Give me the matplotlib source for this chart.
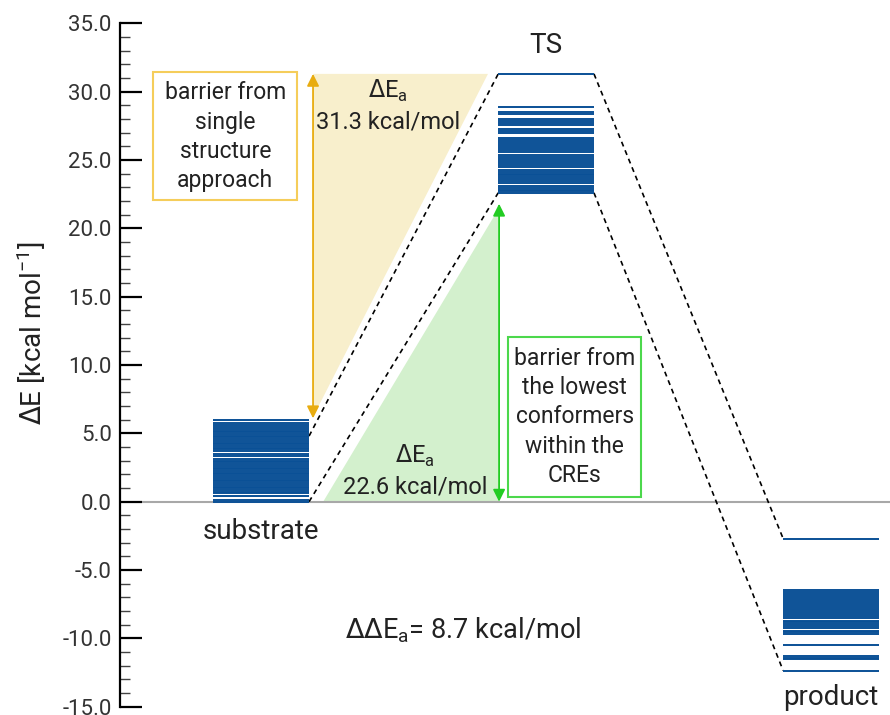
import matplotlib
matplotlib.use("Agg")
import matplotlib.pyplot as plt
from matplotlib.patches import Rectangle, Polygon
from matplotlib.ticker import MultipleLocator

plt.rcParams['font.family'] = ['Roboto', 'DejaVu Sans']
plt.rcParams['axes.unicode_minus'] = False

# conformer energies (kcal/mol) for each stationary point
stages = ['substrate', 'TS', 'product']
stage_x = [0, 1, 2]
substrate_E = [0.0, 0.1, 0.45, 0.6, 0.72, 0.85, 0.98, 1.1, 1.25, 1.38, 1.5, 1.62,
               1.75, 1.88, 2.0, 2.12, 2.25, 2.38, 2.5, 2.62, 2.75, 2.88, 3.0, 3.12,
               3.35, 3.47, 3.72, 3.84, 3.96, 4.08, 4.2, 4.33, 4.46, 4.58, 4.7, 4.83,
               4.96, 5.08, 5.2, 5.35, 5.48, 5.6, 5.75, 6.0]
ts_E = [31.3, 28.9, 28.5, 28.35, 28.0, 27.85, 27.7, 27.55, 27.3, 27.15, 27.0,
        26.6, 26.45, 26.3, 26.15, 26.0, 25.85, 25.7, 25.55, 25.4, 25.25, 25.1,
        24.95, 24.8, 24.65, 24.5, 24.3, 24.15, 24.0, 23.9, 23.75, 23.6, 23.45,
        23.3, 23.1, 22.97, 22.8, 22.7, 22.6]
product_E = [-2.7, -6.45, -6.6, -6.75, -6.9, -7.05, -7.2, -7.35, -7.5, -7.65,
             -7.8, -7.95, -8.1, -8.25, -8.4, -8.5, -8.7, -8.82, -8.96, -9.1,
             -9.22, -9.44, -9.56, -9.7, -10.48, -11.3, -11.45, -11.53, -12.36]
levels = [substrate_E, ts_E, product_E]

# barriers
single_start = 4.8      # substrate conformer used in single structure approach
single_barrier = 31.3
cre_barrier = 22.6
ddE = 8.7

blue = '#0a5096'
txt = '#222222'
hw = 0.168

fig = plt.figure(figsize=(8.9, 7.15), dpi=100)
ax = fig.add_axes([0.135, 0.0116, 0.865, 0.9558])
ax.set_xlim(-0.495, 2.207)
ax.set_ylim(-15, 35)

# zero reference
ax.plot([-0.414, 2.207], [0, 0], color='#a8a8a8', lw=1.5, zorder=1)

# shaded barrier triangles
ax.add_patch(Polygon([[hw + 0.014, single_barrier], [0.796, single_barrier],
                      [hw + 0.014, 6.2]], closed=True, color='#f8efcc', lw=0, zorder=0))
ax.add_patch(Polygon([[0.2175, 0], [0.835, 0], [0.835, 21.5]], closed=True,
                     color='#d3f0cd', lw=0, zorder=0))

# conformer levels
for x, E in zip(stage_x, levels):
    ax.hlines(E, x - hw, x + hw, color=blue, lw=1.4, zorder=3)

# connecting dashed lines
dash = dict(color='black', lw=1.2, ls=(0, (3, 2.5)), zorder=2)
ax.plot([hw, 1 - hw], [single_start, single_barrier], **dash)
ax.plot([hw, 1 - hw], [min(substrate_E), cre_barrier], **dash)
ax.plot([1 + hw, 2 - hw], [max(ts_E), max(product_E)], **dash)
ax.plot([1 + hw, 2 - hw], [min(ts_E), min(product_E)], **dash)

# barrier arrows
ax.annotate('', xy=(hw + 0.014, 6.1), xytext=(hw + 0.014, single_barrier),
            arrowprops=dict(arrowstyle='<|-|>', color='#e8ac10', lw=1.3,
                            mutation_scale=18, shrinkA=0, shrinkB=0))
ax.annotate('', xy=(0.835, 21.8), xytext=(0.835, 0),
            arrowprops=dict(arrowstyle='<|-|>', color='#22cc22', lw=1.3,
                            mutation_scale=18, shrinkA=0, shrinkB=0))

# explanation boxes
ax.add_patch(Rectangle((-0.379, 22.06), 0.505, 9.37, fill=False,
                       ec='#f5cd5a', lw=1.5, zorder=4))
ax.text(-0.126, 26.7, 'barrier from\nsingle\nstructure\napproach', ha='center',
        va='center', fontsize=16.5, linespacing=1.35, color=txt)
ax.add_patch(Rectangle((0.867, 0.34), 0.466, 11.71, fill=False,
                       ec='#4cd84c', lw=1.5, zorder=4))
ax.text(1.1, 6.2, 'barrier from\nthe lowest\nconformers\nwithin the\nCREs', ha='center',
        va='center', fontsize=16.5, linespacing=1.35, color=txt)

# barrier values
ax.text(0.446, 29.0, '$\\Delta$E$_\\mathregular{a}$\n%.1f kcal/mol' % single_barrier,
        ha='center', va='center', fontsize=17, linespacing=1.35, color=txt)
ax.text(0.54, 2.3, '$\\Delta$E$_\\mathregular{a}$\n%.1f kcal/mol' % cre_barrier,
        ha='center', va='center', fontsize=17, linespacing=1.35, color=txt)
ax.text(0.709, -9.4, '$\\Delta\\Delta$E$_\\mathregular{a}$= %.1f kcal/mol' % ddE,
        ha='center', va='center', fontsize=19.5, color=txt)

# stage labels
ax.text(stage_x[0], -2.2, stages[0], ha='center', va='center', fontsize=20, color=txt)
ax.text(stage_x[1], 33.4, stages[1], ha='center', va='center', fontsize=20, color=txt)
ax.text(stage_x[2], -14.3, stages[2], ha='center', va='center', fontsize=20, color=txt)

# axis styling
for s in ['top', 'right', 'bottom']:
    ax.spines[s].set_visible(False)
ax.spines['left'].set_linewidth(1.6)
ax.set_xticks([])
ax.yaxis.set_major_locator(MultipleLocator(5))
ax.yaxis.set_minor_locator(MultipleLocator(1))
ax.yaxis.set_major_formatter('{x:.1f}')
ax.tick_params(axis='y', which='major', direction='in', length=16, width=1.6,
               labelsize=16, pad=6, labelcolor='#333333')
ax.tick_params(axis='y', which='minor', direction='in', length=7, width=1.0,
               color='#444444')
ax.set_ylabel('$\\Delta$E [kcal mol$^\\mathregular{-1}$]', fontsize=20, color=txt)
ax.yaxis.set_label_coords(-0.094, 0.547)

fig.savefig('out.png', dpi=100)
